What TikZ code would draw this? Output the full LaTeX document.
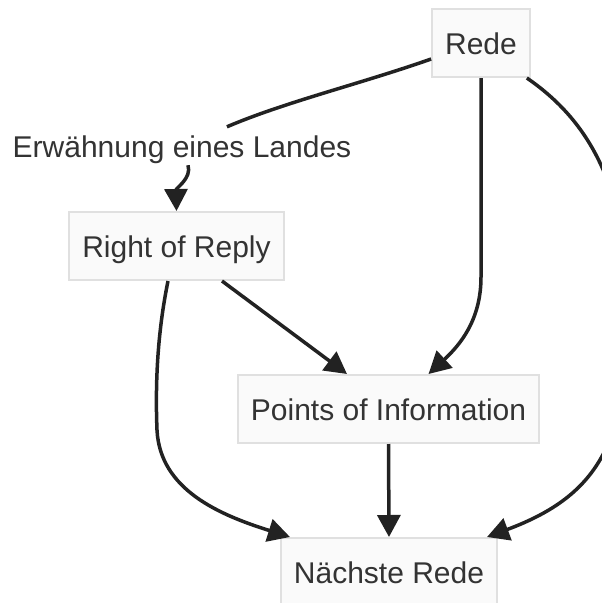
\documentclass[tikz,border=0pt]{standalone}
\usepackage{fontspec}
\setmainfont{Liberation Sans}
\usetikzlibrary{arrows.meta}
\definecolor{boxfill}{HTML}{FAFAFA}
\definecolor{boxline}{HTML}{E0E0E0}
\definecolor{ink}{HTML}{333333}
\definecolor{wire}{HTML}{222222}
\tikzset{
  stage/.style={draw=boxline, fill=boxfill, line width=2pt, text=ink,
    font=\fontsize{30}{36}\selectfont, inner xsep=13pt,
    minimum height=68pt, text height=22pt, text depth=0pt},
  edgelabel/.style={fill=white, text=ink, font=\fontsize{30}{36}\selectfont,
    inner xsep=4pt, inner ysep=8pt, text height=22pt, text depth=0pt},
  flow/.style={draw=wire, line width=3.5pt,
    -{Triangle[length=22pt,width=23pt]}},
  plain/.style={draw=wire, line width=3.5pt}
}
\begin{document}
\begin{tikzpicture}[x=1pt,y=-1pt]
      \useasboundingbox (0,0) rectangle (602,603);

      \node[stage] (rede) at (481,43) {Rede};
      \node[stage] (ror) at (176.5,246) {Right of Reply};
      \node[stage] (poi) at (388.5,409) {Points of Information};
      \node[stage] (nr) at (389,572) {Nächste Rede};
      \node[edgelabel] (lbl) at (182,146) {Erwähnung eines Landes};

      % Rede -> Right of Reply (mit Beschriftung)
      \draw[plain] ([yshift=-16pt]rede.west) .. controls (360,84) and (285,102) .. (lbl);
      \draw[flow] (lbl) .. controls (192,178) and (176,188) .. (ror.north);

      % Rede -> Points of Information
      \draw[flow] (rede.south) -- (481,277)
        .. controls (481,320) and (460,345) .. ([xshift=40pt]poi.north);

      % Rede -> Naechste Rede
      \draw[flow] ([xshift=-4pt]rede.south east)
        .. controls (585,118) and (625,180) .. (628,300)
        .. controls (630,440) and (600,495) .. ([xshift=98pt]nr.north);

      % Right of Reply -> Points of Information
      \draw[flow] ([xshift=45.5pt]ror.south) -- ([xshift=-41.5pt]poi.north);

      % Right of Reply -> Naechste Rede
      \draw[flow] ([xshift=-8.5pt]ror.south)
        .. controls (158,330) and (155,380) .. (157,430)
        .. controls (160,490) and (220,515) .. ([xshift=-99pt]nr.north);

      % Points of Information -> Naechste Rede
      \draw[flow] (poi.south) -- (nr.north);
\end{tikzpicture}
\end{document}
